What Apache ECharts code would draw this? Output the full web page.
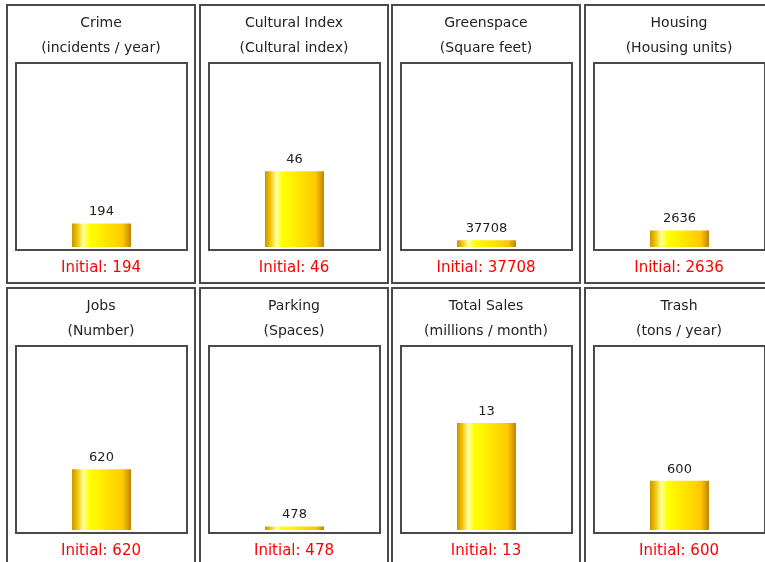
<!DOCTYPE html>
<html>
<head>
<meta charset="utf-8">
<script src="https://cdn.jsdelivr.net/npm/echarts@6/dist/echarts.min.js"></script>
<style>
  html, body { margin: 0; padding: 0; background: #ffffff; }
  #chart { width: 765px; height: 562px; }
</style>
</head>
<body>
<div id="chart"></div>
<script>
// Indicator names, their units and current values
const indicators = ['Crime', 'Cultural Index', 'Greenspace', 'Housing', 'Jobs', 'Parking', 'Total Sales', 'Trash'];
const units = ['(incidents / year)', '(Cultural index)', '(Square feet)', '(Housing units)', '(Number)', '(Spaces)', '(millions / month)', '(tons / year)'];
const values = [194, 46, 37708, 2636, 620, 478, 13, 600];
const initialValues = [194, 46, 37708, 2636, 620, 478, 13, 600];
// Upper end of each gauge's own scale
const scaleMax = [1500, 110, 1000000, 29000, 1850, 25000, 22, 2200];

const FONT = '"DejaVu Sans", Verdana, sans-serif';
const COLS = 4;
const panelW = 188, panelH = 278;
const colPitch = 192.67, rowPitch = 283;
const originX = 7, originY = 5;

const barGradient = new echarts.graphic.LinearGradient(0, 0, 1, 0, [
  { offset: 0.00, color: '#c99300' },
  { offset: 0.09, color: '#efc400' },
  { offset: 0.19, color: '#ffffa0' },
  { offset: 0.30, color: '#ffff00' },
  { offset: 0.60, color: '#ffe400' },
  { offset: 0.86, color: '#ffc800' },
  { offset: 1.00, color: '#c08400' }
]);

const grids = [], xAxes = [], yAxes = [], series = [], graphics = [];

indicators.forEach((name, i) => {
  const col = i % COLS, row = Math.floor(i / COLS);
  const px = Math.round(originX + col * colPitch);
  const py = originY + row * rowPitch;
  const cx = px + panelW / 2;

  // outer panel frame
  graphics.push({
    type: 'rect', silent: true, z: 1,
    shape: { x: px, y: py, width: panelW, height: panelH },
    style: { fill: '#ffffff', stroke: '#4a4a4a', lineWidth: 2 }
  });
  // inner plot frame
  graphics.push({
    type: 'rect', silent: true, z: 2,
    shape: { x: px + 9, y: py + 58, width: 171, height: 187 },
    style: { fill: '#ffffff', stroke: '#4a4a4a', lineWidth: 2 }
  });
  // title and unit
  graphics.push({
    type: 'text', silent: true, z: 3,
    style: { x: cx, y: py + 18, text: name, align: 'center', verticalAlign: 'middle',
             font: '14px ' + FONT, fill: '#222222' }
  });
  graphics.push({
    type: 'text', silent: true, z: 3,
    style: { x: cx, y: py + 43, text: units[i], align: 'center', verticalAlign: 'middle',
             font: '14px ' + FONT, fill: '#222222' }
  });
  // initial value caption
  graphics.push({
    type: 'text', silent: true, z: 3,
    style: { x: cx, y: py + 263, text: 'Initial: ' + initialValues[i], align: 'center', verticalAlign: 'middle',
             font: '15px ' + FONT, fill: '#ff0000' }
  });

  grids.push({ left: px + 9, top: py + 61, width: 171, height: 181, z: 5 });
  xAxes.push({ gridIndex: i, type: 'category', data: [name], show: false });
  yAxes.push({ gridIndex: i, type: 'value', min: 0, max: scaleMax[i], show: false, splitLine: { show: false } });
  series.push({
    type: 'bar', xAxisIndex: i, yAxisIndex: i, z: 5,
    data: [values[i]], barWidth: 59, animation: false,
    itemStyle: { color: barGradient },
    label: { show: true, position: 'top', distance: 5, color: '#222222',
             fontFamily: FONT, fontSize: 13, formatter: p => String(p.value) }
  });
});

const chart = echarts.init(document.getElementById('chart'), null, { renderer: 'canvas' });
chart.setOption({
  backgroundColor: '#ffffff',
  animation: false,
  graphic: { elements: graphics },
  grid: grids,
  xAxis: xAxes,
  yAxis: yAxes,
  series: series
});
</script>
</body>
</html>
